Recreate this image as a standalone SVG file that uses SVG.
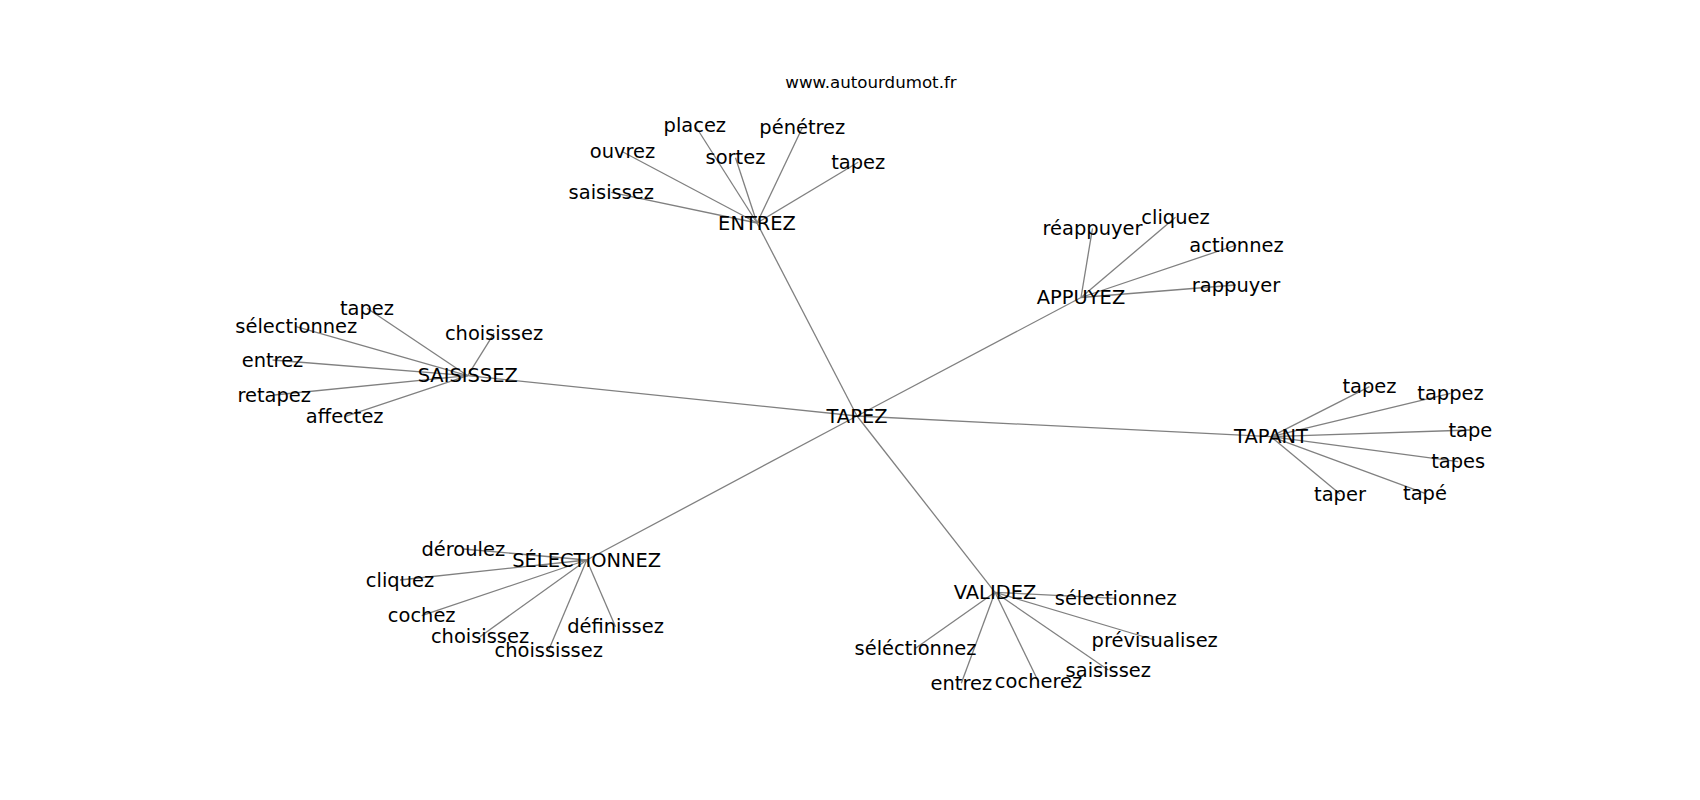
<svg xmlns="http://www.w3.org/2000/svg" width="1700" height="800" viewBox="0 0 1700 800">
<style>
text{font-family:"DejaVu Sans","Liberation Sans",sans-serif;fill:#000;text-anchor:middle}
.n text{font-size:19.44px}
.title{font-size:16.67px}
#edges line{stroke:#808080;stroke-width:1.3}
</style>
<rect width="1700" height="800" fill="#fff"/>
<text class="title" x="871" y="88">www.autourdumot.fr</text>
<g id="edges">
<line x1="857" y1="416" x2="757" y2="223"/>
<line x1="857" y1="416" x2="1081" y2="297.5"/>
<line x1="857" y1="416" x2="467.7" y2="375.7"/>
<line x1="857" y1="416" x2="1271" y2="436.7"/>
<line x1="857" y1="416" x2="586.7" y2="560"/>
<line x1="857" y1="416" x2="995" y2="592.3"/>
<line x1="757" y1="223" x2="611.3" y2="192.3"/>
<line x1="757" y1="223" x2="622.5" y2="151.7"/>
<line x1="757" y1="223" x2="694.8" y2="125"/>
<line x1="757" y1="223" x2="735.5" y2="157.7"/>
<line x1="757" y1="223" x2="802.3" y2="127.7"/>
<line x1="757" y1="223" x2="858.2" y2="162.3"/>
<line x1="1081" y1="297.5" x2="1092.5" y2="228.3"/>
<line x1="1081" y1="297.5" x2="1175.5" y2="217.3"/>
<line x1="1081" y1="297.5" x2="1236.5" y2="245"/>
<line x1="1081" y1="297.5" x2="1236" y2="285"/>
<line x1="467.7" y1="375.7" x2="367" y2="308.3"/>
<line x1="467.7" y1="375.7" x2="296.3" y2="326.7"/>
<line x1="467.7" y1="375.7" x2="494" y2="333.3"/>
<line x1="467.7" y1="375.7" x2="272.5" y2="360"/>
<line x1="467.7" y1="375.7" x2="274.2" y2="395"/>
<line x1="467.7" y1="375.7" x2="344.7" y2="416.7"/>
<line x1="1271" y1="436.7" x2="1369.5" y2="386.7"/>
<line x1="1271" y1="436.7" x2="1450.5" y2="393.3"/>
<line x1="1271" y1="436.7" x2="1470.3" y2="430"/>
<line x1="1271" y1="436.7" x2="1458.2" y2="461.7"/>
<line x1="1271" y1="436.7" x2="1340" y2="494"/>
<line x1="1271" y1="436.7" x2="1425" y2="493.3"/>
<line x1="586.7" y1="560" x2="463.3" y2="549"/>
<line x1="586.7" y1="560" x2="400" y2="580"/>
<line x1="586.7" y1="560" x2="421.7" y2="615.7"/>
<line x1="586.7" y1="560" x2="480" y2="636.7"/>
<line x1="586.7" y1="560" x2="548.7" y2="650"/>
<line x1="586.7" y1="560" x2="615.5" y2="626.7"/>
<line x1="995" y1="592.3" x2="1115.7" y2="598.3"/>
<line x1="995" y1="592.3" x2="1154.7" y2="640"/>
<line x1="995" y1="592.3" x2="915.5" y2="648.3"/>
<line x1="995" y1="592.3" x2="961.3" y2="683.3"/>
<line x1="995" y1="592.3" x2="1038.5" y2="681.7"/>
<line x1="995" y1="592.3" x2="1108.3" y2="670"/>
</g>
<g class="n" transform="translate(0,1.5)">
<g id="n-tapez-center"><text x="857" y="421">TAPEZ</text></g>
<g id="n-entrez"><text x="757" y="228.3">ENTREZ</text></g>
<g id="n-entrez-saisissez"><text x="611.3" y="197.3">saisissez</text></g>
<g id="n-entrez-ouvrez"><text x="622.5" y="156.7">ouvrez</text></g>
<g id="n-entrez-placez"><text x="694.8" y="130">placez</text></g>
<g id="n-entrez-sortez"><text x="735.5" y="162.7">sortez</text></g>
<g id="n-entrez-penetrez"><text x="802.3" y="132.7">pénétrez</text></g>
<g id="n-entrez-tapez"><text x="858.2" y="167.3">tapez</text></g>
<g id="n-appuyez"><text x="1081" y="302.5">APPUYEZ</text></g>
<g id="n-appuyez-reappuyer"><text x="1092.5" y="233.3">réappuyer</text></g>
<g id="n-appuyez-cliquez"><text x="1175.5" y="222.3">cliquez</text></g>
<g id="n-appuyez-actionnez"><text x="1236.5" y="250">actionnez</text></g>
<g id="n-appuyez-rappuyer"><text x="1236" y="290">rappuyer</text></g>
<g id="n-saisissez"><text x="467.7" y="380.7">SAISISSEZ</text></g>
<g id="n-saisissez-tapez"><text x="367" y="313.3">tapez</text></g>
<g id="n-saisissez-selectionnez"><text x="296.3" y="331.7">sélectionnez</text></g>
<g id="n-saisissez-choisissez"><text x="494" y="338.3">choisissez</text></g>
<g id="n-saisissez-entrez"><text x="272.5" y="365">entrez</text></g>
<g id="n-saisissez-retapez"><text x="274.2" y="400">retapez</text></g>
<g id="n-saisissez-affectez"><text x="344.7" y="421.7">affectez</text></g>
<g id="n-tapant"><text x="1271" y="441.7">TAPANT</text></g>
<g id="n-tapant-tapez"><text x="1369.5" y="391.7">tapez</text></g>
<g id="n-tapant-tappez"><text x="1450.5" y="398.3">tappez</text></g>
<g id="n-tapant-tape"><text x="1470.3" y="435">tape</text></g>
<g id="n-tapant-tapes"><text x="1458.2" y="466.7">tapes</text></g>
<g id="n-tapant-taper"><text x="1340" y="499">taper</text></g>
<g id="n-tapant-tape2"><text x="1425" y="498.3">tapé</text></g>
<g id="n-selectionnez"><text x="586.7" y="565">SÉLECTIONNEZ</text></g>
<g id="n-sel-deroulez"><text x="463.3" y="554">déroulez</text></g>
<g id="n-sel-cliquez"><text x="400" y="585">cliquez</text></g>
<g id="n-sel-cochez"><text x="421.7" y="620.7">cochez</text></g>
<g id="n-sel-choisissez"><text x="480" y="641.7">choisissez</text></g>
<g id="n-sel-choississez"><text x="548.7" y="655">choississez</text></g>
<g id="n-sel-definissez"><text x="615.5" y="631.7">définissez</text></g>
<g id="n-validez"><text x="995" y="597.3">VALIDEZ</text></g>
<g id="n-val-selectionnez"><text x="1115.7" y="603.3">sélectionnez</text></g>
<g id="n-val-previsualisez"><text x="1154.7" y="645">prévisualisez</text></g>
<g id="n-val-selectionnez2"><text x="915.5" y="653.3">séléctionnez</text></g>
<g id="n-val-entrez"><text x="961.3" y="688.3">entrez</text></g>
<g id="n-val-cocherez"><text x="1038.5" y="686.7">cocherez</text></g>
<g id="n-val-saisissez"><text x="1108.3" y="675">saisissez</text></g>
</g>
</svg>
